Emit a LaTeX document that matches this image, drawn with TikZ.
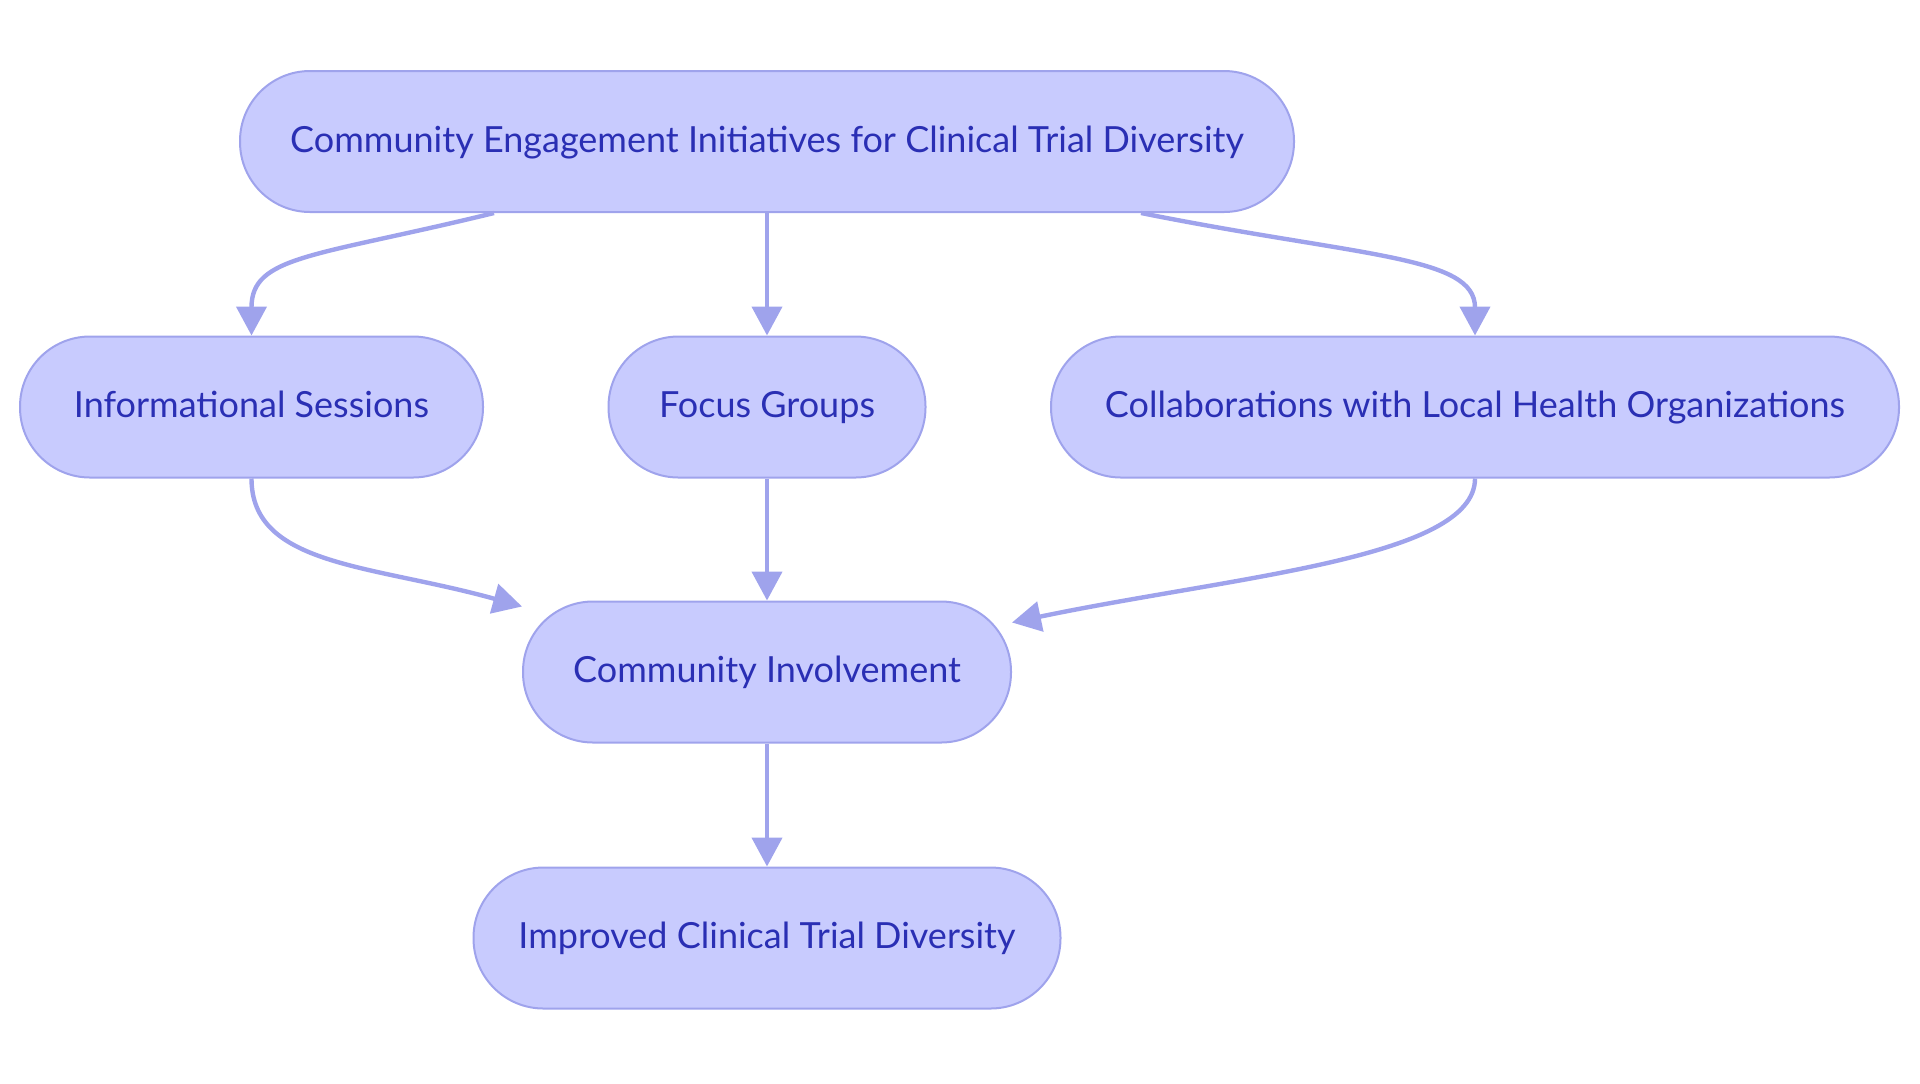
\documentclass[tikz,border=0pt]{standalone}
\usepackage{fontspec}
\setmainfont{Lato}
\usetikzlibrary{positioning,arrows.meta}
\definecolor{nodefill}{HTML}{C8CBFE}
\definecolor{nodeline}{HTML}{9FA3EC}
\definecolor{nodetext}{HTML}{2A2FB4}
\begin{document}
\begin{tikzpicture}[
x=1pt,y=1pt,
stadium/.style={
  draw=nodeline,
  fill=nodefill,
  line width=1pt,
  rounded corners=35pt,
  minimum height=70.5pt,
  inner xsep=18pt,
  text height=13.5pt,
  text depth=3pt,
  text=nodetext,
  font=\fontsize{18}{21}\selectfont
  },
link/.style={
  draw=nodeline,
  line width=2.2pt,
  -{Triangle[width=15pt,length=14.5pt]}
  }
]
\useasboundingbox (0,0) rectangle (960,-541.5);
\node[stadium, minimum width=527pt] (init) at (383.5,-70.75) {Community Engagement Initiatives for Clinical Trial Diversity};
\node[stadium, minimum width=231.5pt] (sess) at (125.75,-203.5) {Informational Sessions};
\node[stadium, minimum width=158.5pt] (focus) at (383.5,-203.5) {Focus Groups};
\node[stadium, minimum width=424pt] (collab) at (737.5,-203.5) {Collaborations with Local Health Organizations};
\node[stadium, minimum width=244pt] (inv) at (383.5,-336) {Community Involvement};
\node[stadium, minimum width=293.5pt] (div) at (383.5,-469) {Improved Clinical Trial Diversity};

\draw[link] ([xshift=-136.5pt]init.south) .. controls +(-90,-22) and +(0,40) .. (sess.north);
\draw[link] (init.south) -- (focus.north);
\draw[link] ([xshift=187pt]init.south) .. controls +(110,-22) and +(0,40) .. (collab.north);

\draw[link] (sess.south) .. controls +(0,-44) and +(-75,21) .. ([yshift=-3pt]inv.north west);
\draw[link] (focus.south) -- (inv.north);
\draw[link] (collab.south) .. controls +(0,-40) and +(110,23) .. ([yshift=-11pt]inv.north east);

\draw[link] (inv.south) -- (div.north);
\end{tikzpicture}
\end{document}
